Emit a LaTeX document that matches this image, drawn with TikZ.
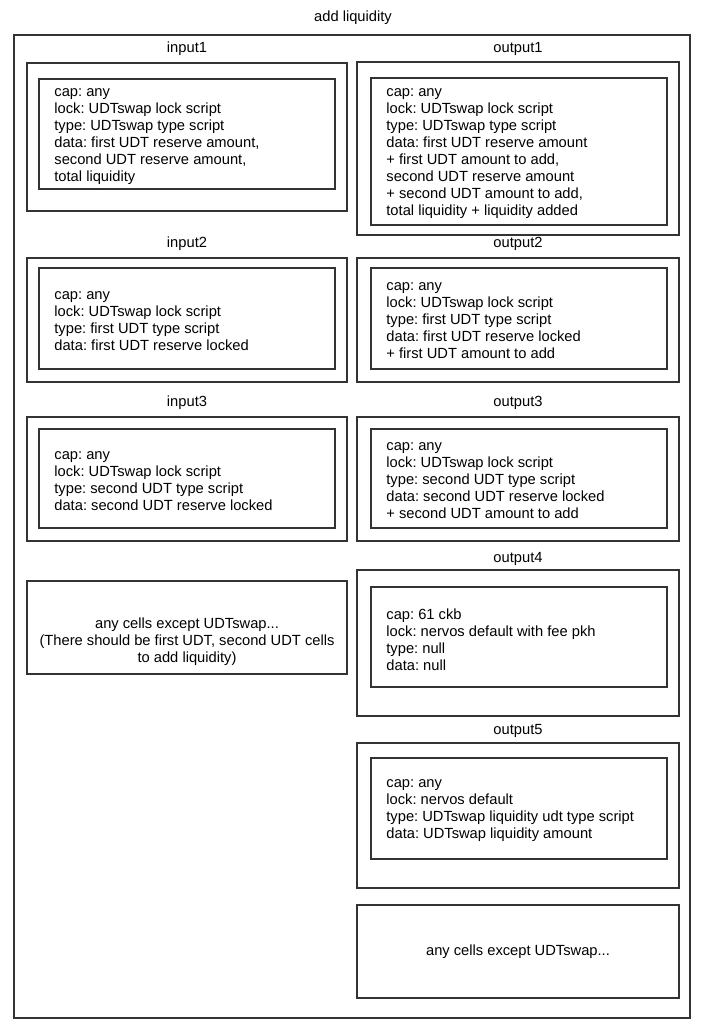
\documentclass[tikz,border=0pt]{standalone}
\usepackage{fontspec}
\setmainfont{Liberation Sans}
\frenchspacing
\usetikzlibrary{positioning}

\tikzset{
    cell/.style={draw=black!80, line width=1.6pt, rectangle, inner sep=0pt},
    lbl/.style={inner sep=0pt, text height=10pt, text depth=3pt, font=\fontsize{14.7}{17}\selectfont},
    txt/.style={inner sep=0pt, align=left, yshift=-2.5pt, font=\fontsize{14.7}{17}\selectfont},
}

\begin{document}
\begin{tikzpicture}[x=1pt, y=-1pt]
\useasboundingbox (0,0) rectangle (706,1031);

\node[lbl] (title) at (353,18) {add liquidity};
\node[cell, minimum width=676pt, minimum height=983pt] (frame) at (352,526.5) {};

% inputs
\node[lbl] (in1lbl) at (187,49) {input1};
\node[cell, minimum width=320pt, minimum height=148pt] (in1) at (187,137) {};
\node[cell, minimum width=296pt, minimum height=110pt] (in1i) at (187,134) {};
\node[txt, right=16pt of in1i.west] (in1txt) {cap: any\\lock: UDTswap lock script\\type: UDTswap type script\\data: first UDT reserve amount,\\second UDT reserve amount,\\total liquidity};

\node[lbl] (in2lbl) at (187,244) {input2};
\node[cell, minimum width=320pt, minimum height=124pt] (in2) at (187,320) {};
\node[cell, minimum width=296pt, minimum height=101pt] (in2i) at (187,318.5) {};
\node[txt, right=16pt of in2i.west] (in2txt) {cap: any\\lock: UDTswap lock script\\type: first UDT type script\\data: first UDT reserve locked};

\node[lbl] (in3lbl) at (187,403) {input3};
\node[cell, minimum width=320pt, minimum height=124pt] (in3) at (187,479) {};
\node[cell, minimum width=296pt, minimum height=99pt] (in3i) at (187,478.5) {};
\node[txt, right=16pt of in3i.west] (in3txt) {cap: any\\lock: UDTswap lock script\\type: second UDT type script\\data: second UDT reserve locked};

\node[cell, minimum width=320pt, minimum height=93pt] (anyin) at (187,627.5) {};
\node[txt, align=center] (anyintxt) at (187,639) {any cells except UDTswap...\\(There should be first UDT, second UDT cells\\to add liquidity)};

% outputs
\node[lbl] (out1lbl) at (518,49) {output1};
\node[cell, minimum width=322pt, minimum height=173pt] (out1) at (518,148.5) {};
\node[cell, minimum width=296pt, minimum height=147pt] (out1i) at (519,151.5) {};
\node[txt, right=16pt of out1i.west] (out1txt) {cap: any\\lock: UDTswap lock script\\type: UDTswap type script\\data: first UDT reserve amount\\+ first UDT amount to add,\\second UDT reserve amount\\+ second UDT amount to add,\\total liquidity + liquidity added};

\node[lbl] (out2lbl) at (518,244) {output2};
\node[cell, minimum width=322pt, minimum height=124pt] (out2) at (518,320) {};
\node[cell, minimum width=296pt, minimum height=101pt] (out2i) at (519,318.5) {};
\node[txt, right=16pt of out2i.west] (out2txt) {cap: any\\lock: UDTswap lock script\\type: first UDT type script\\data: first UDT reserve locked\\+ first UDT amount to add};

\node[lbl] (out3lbl) at (518,403) {output3};
\node[cell, minimum width=322pt, minimum height=124pt] (out3) at (518,479) {};
\node[cell, minimum width=296pt, minimum height=99pt] (out3i) at (519,478.5) {};
\node[txt, right=16pt of out3i.west] (out3txt) {cap: any\\lock: UDTswap lock script\\type: second UDT type script\\data: second UDT reserve locked\\+ second UDT amount to add};

\node[lbl] (out4lbl) at (518,559) {output4};
\node[cell, minimum width=322pt, minimum height=146pt] (out4) at (518,643) {};
\node[cell, minimum width=296pt, minimum height=100pt] (out4i) at (519,637) {};
\node[txt, right=16pt of out4i.west] (out4txt) {cap: 61 ckb\\lock: nervos default with fee pkh\\type: null\\data: null};

\node[lbl] (out5lbl) at (518,731) {output5};
\node[cell, minimum width=322pt, minimum height=145pt] (out5) at (518,815.5) {};
\node[cell, minimum width=296pt, minimum height=101pt] (out5i) at (519,808.5) {};
\node[txt, right=16pt of out5i.west] (out5txt) {cap: any\\lock: nervos default\\type: UDTswap liquidity udt type script\\data: UDTswap liquidity amount};

\node[cell, minimum width=322pt, minimum height=93pt, font=\fontsize{14.7}{17}\selectfont] (anyout) at (518,951.5) {any cells except UDTswap...};
\end{tikzpicture}
\end{document}
